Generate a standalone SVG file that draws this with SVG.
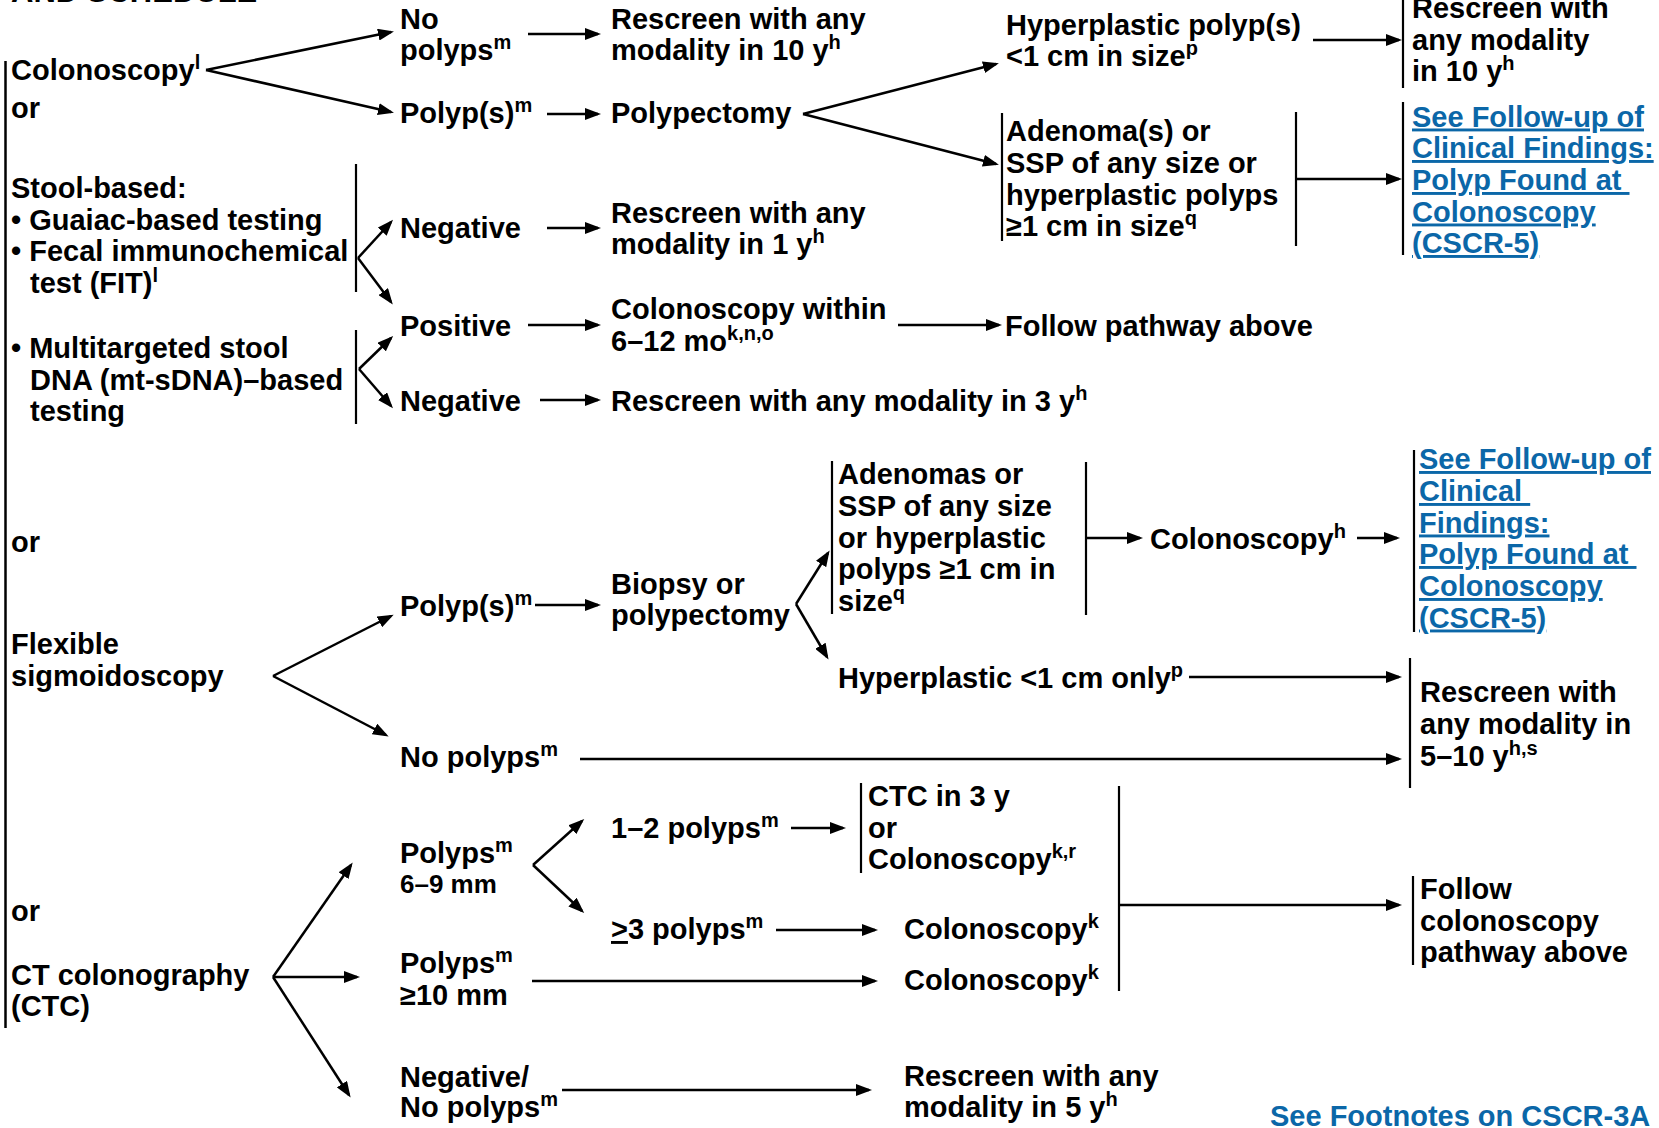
<svg xmlns="http://www.w3.org/2000/svg" width="1659" height="1128" viewBox="0 0 1659 1128">
<defs>
<style>
text{font-family:"Liberation Sans",Arial,Helvetica,sans-serif;font-weight:bold;font-size:29px;fill:#000}
.s{font-size:20px}
.blue{fill:#0b67a8}
.u{text-decoration:underline}
.ln{stroke:#000;stroke-width:2.5;fill:none;marker-end:url(#ah)}
.br{stroke:#000;stroke-width:2.2;fill:none}
</style>
<marker id="ah" viewBox="0 0 16 12" refX="13" refY="6" markerWidth="16" markerHeight="12" markerUnits="userSpaceOnUse" orient="auto"><path d="M0,0L16,6L0,12z" fill="#000"/></marker>
</defs>
<rect width="1659" height="1128" fill="#fff"/>

<g id="heading"><text x="11" y="2" style="font-size:31px">AND SCHEDULE</text></g>

<g id="left-options">
<line class="br" x1="5.5" y1="61" x2="5.5" y2="1028" style="stroke-width:2.5"/>
</g>

<g id="colonoscopy"><text><tspan x="11" y="80">Colonoscopy<tspan class="s" dy="-11">l</tspan></tspan><tspan x="11" y="118">or</tspan></text></g>

<g id="stool-based">
<text><tspan x="11" y="198">Stool-based:</tspan><tspan x="11" y="230">• Guaiac-based testing</tspan><tspan x="11" y="261">• Fecal immunochemical</tspan><tspan x="30" y="293">test (FIT)<tspan class="s" dy="-11">l</tspan></tspan></text>
<line class="br" x1="356" y1="164" x2="356" y2="292"/>
</g>

<g id="mt-sdna">
<text><tspan x="11" y="358">• Multitargeted stool</tspan><tspan x="30" y="390">DNA (mt-sDNA)–based</tspan><tspan x="30" y="421">testing</tspan></text>
<line class="br" x1="356" y1="330" x2="356" y2="424"/>
</g>

<g id="or-2"><text x="11" y="552">or</text></g>
<g id="flexible-sigmoidoscopy"><text><tspan x="11" y="654">Flexible</tspan><tspan x="11" y="686">sigmoidoscopy</tspan></text></g>
<g id="or-3"><text x="11" y="921">or</text></g>
<g id="ct-colonography"><text><tspan x="11" y="985">CT colonography</tspan><tspan x="11" y="1016">(CTC)</tspan></text></g>

<g id="col-no-polyps"><text><tspan x="400" y="29">No</tspan><tspan x="400" y="60">polyps<tspan class="s" dy="-11">m</tspan></tspan></text></g>
<g id="col-polyps"><text x="400" y="123">Polyp(s)<tspan class="s" dy="-11">m</tspan></text></g>
<g id="rescreen-10y"><text><tspan x="611" y="29">Rescreen with any</tspan><tspan x="611" y="60">modality in 10 y<tspan class="s" dy="-11">h</tspan></tspan></text></g>
<g id="polypectomy"><text x="611" y="123">Polypectomy</text></g>

<g id="hyperplastic-small"><text><tspan x="1006" y="35">Hyperplastic polyp(s)</tspan><tspan x="1006" y="66">&lt;1 cm in size<tspan class="s" dy="-11">p</tspan></tspan></text></g>
<g id="rescreen-10y-b">
<line class="br" x1="1403" y1="0" x2="1403" y2="88"/>
<text><tspan x="1412" y="18">Rescreen with</tspan><tspan x="1412" y="49.5">any modality</tspan><tspan x="1412" y="81">in 10 y<tspan class="s" dy="-11">h</tspan></tspan></text>
</g>
<g id="adenomas-a">
<line class="br" x1="1002" y1="113" x2="1002" y2="241"/>
<line class="br" x1="1296" y1="112" x2="1296" y2="246"/>
<text><tspan x="1006" y="141">Adenoma(s) or</tspan><tspan x="1006" y="173">SSP of any size or</tspan><tspan x="1006" y="204.5">hyperplastic polyps</tspan><tspan x="1006" y="236">≥1 cm in size<tspan class="s" dy="-11">q</tspan></tspan></text>
</g>
<g id="link-cscr5-a">
<line class="br" x1="1403" y1="102" x2="1403" y2="255"/>
<text class="blue u" xml:space="preserve"><tspan x="1412" y="126.5">See Follow-up of</tspan><tspan x="1412" y="158">Clinical Findings:</tspan><tspan x="1412" y="190">Polyp Found at </tspan><tspan x="1412" y="221.5">Colonoscopy</tspan><tspan x="1412" y="253">(CSCR-5)</tspan></text>
</g>

<g id="stool-negative"><text x="400" y="238">Negative</text></g>
<g id="rescreen-1y"><text><tspan x="611" y="223">Rescreen with any</tspan><tspan x="611" y="254">modality in 1 y<tspan class="s" dy="-11">h</tspan></tspan></text></g>
<g id="positive"><text x="400" y="336">Positive</text></g>
<g id="colonoscopy-within"><text><tspan x="611" y="319">Colonoscopy within</tspan><tspan x="611" y="351">6–12 mo<tspan class="s" dy="-11">k,n,o</tspan></tspan></text></g>
<g id="follow-pathway"><text x="1005" y="336">Follow pathway above</text></g>
<g id="mt-negative"><text x="400" y="411">Negative</text></g>
<g id="rescreen-3y"><text x="611" y="411">Rescreen with any modality in 3 y<tspan class="s" dy="-11">h</tspan></text></g>

<g id="flex-polyps"><text x="400" y="616">Polyp(s)<tspan class="s" dy="-11">m</tspan></text></g>
<g id="biopsy"><text><tspan x="611" y="594">Biopsy or</tspan><tspan x="611" y="625">polypectomy</tspan></text></g>
<g id="adenomas-b">
<line class="br" x1="832" y1="461" x2="832" y2="614"/>
<line class="br" x1="1086" y1="462" x2="1086" y2="615"/>
<text><tspan x="838" y="484">Adenomas or</tspan><tspan x="838" y="516">SSP of any size</tspan><tspan x="838" y="547.5">or hyperplastic</tspan><tspan x="838" y="579">polyps ≥1 cm in</tspan><tspan x="838" y="611">size<tspan class="s" dy="-11">q</tspan></tspan></text>
</g>
<g id="colonoscopy-h"><text x="1150" y="549">Colonoscopy<tspan class="s" dy="-11">h</tspan></text></g>
<g id="link-cscr5-b">
<line class="br" x1="1414" y1="450" x2="1414" y2="632"/>
<text class="blue u" xml:space="preserve"><tspan x="1419" y="469">See Follow-up of</tspan><tspan x="1419" y="501">Clinical </tspan><tspan x="1419" y="532.5">Findings:</tspan><tspan x="1419" y="564">Polyp Found at </tspan><tspan x="1419" y="596">Colonoscopy</tspan><tspan x="1419" y="627.5">(CSCR-5)</tspan></text>
</g>
<g id="hyperplastic-only"><text x="838" y="688">Hyperplastic &lt;1 cm only<tspan class="s" dy="-11">p</tspan></text></g>
<g id="flex-no-polyps"><text x="400" y="767">No polyps<tspan class="s" dy="-11">m</tspan></text></g>
<g id="rescreen-5-10y">
<line class="br" x1="1410" y1="658" x2="1410" y2="788"/>
<text><tspan x="1420" y="702">Rescreen with</tspan><tspan x="1420" y="734">any modality in</tspan><tspan x="1420" y="765.5">5–10 y<tspan class="s" dy="-11">h,s</tspan></tspan></text>
</g>

<g id="ctc-polyps-6-9"><text><tspan x="400" y="863">Polyps<tspan class="s" dy="-11">m</tspan></tspan><tspan x="400" y="893" style="font-size:26px">6–9 mm</tspan></text></g>
<g id="one-two-polyps"><text x="611" y="838">1–2 polyps<tspan class="s" dy="-11">m</tspan></text></g>
<g id="ctc-3y">
<line class="br" x1="861" y1="783" x2="861" y2="873"/>
<text><tspan x="868" y="806">CTC in 3 y</tspan><tspan x="868" y="837.5">or</tspan><tspan x="868" y="869">Colonoscopy<tspan class="s" dy="-11">k,r</tspan></tspan></text>
</g>
<g id="three-polyps"><text x="611" y="939"><tspan class="u">&gt;</tspan>3 polyps<tspan class="s" dy="-11">m</tspan></text></g>
<g id="colonoscopy-k1"><text x="904" y="939">Colonoscopy<tspan class="s" dy="-11">k</tspan></text></g>
<g id="ctc-polyps-10"><text><tspan x="400" y="973">Polyps<tspan class="s" dy="-11">m</tspan></tspan><tspan x="400" y="1005">≥10 mm</tspan></text></g>
<g id="colonoscopy-k2"><text x="904" y="990">Colonoscopy<tspan class="s" dy="-11">k</tspan></text></g>
<g id="colonoscopy-group"><line class="br" x1="1119" y1="786" x2="1119" y2="991"/></g>
<g id="follow-colonoscopy">
<line class="br" x1="1413" y1="876" x2="1413" y2="965"/>
<text><tspan x="1420" y="899">Follow</tspan><tspan x="1420" y="930.5">colonoscopy</tspan><tspan x="1420" y="962">pathway above</tspan></text>
</g>
<g id="ctc-negative"><text><tspan x="400" y="1087">Negative/</tspan><tspan x="400" y="1117">No polyps<tspan class="s" dy="-11">m</tspan></tspan></text></g>
<g id="rescreen-5y"><text><tspan x="904" y="1086">Rescreen with any</tspan><tspan x="904" y="1117">modality in 5 y<tspan class="s" dy="-11">h</tspan></tspan></text></g>
<g id="footnotes"><text class="blue" x="1270" y="1126">See Footnotes on CSCR-3A</text></g>

<g id="connectors">
<path class="ln" d="M206,70L391,32"/>
<path class="ln" d="M206,70L391,112"/>
<path class="ln" d="M528,34H598"/>
<path class="ln" d="M547,114H598"/>
<path class="ln" d="M803,114L996,64"/>
<path class="ln" d="M803,114L996,164"/>
<path class="ln" d="M1313,40H1399"/>
<path class="ln" d="M1296,179H1399"/>
<path class="ln" d="M358,258L391,222"/>
<path class="ln" d="M358,258L391,302"/>
<path class="ln" d="M547,228H598"/>
<path class="ln" d="M528,325H598"/>
<path class="ln" d="M359,369L391,338"/>
<path class="ln" d="M359,369L391,406"/>
<path class="ln" d="M540,400H598"/>
<path class="ln" d="M898,325H999"/>
<path class="ln" d="M273,676L391,616"/>
<path class="ln" d="M273,676L386,735"/>
<path class="ln" d="M535,605H598"/>
<path class="ln" d="M796,604L828,553"/>
<path class="ln" d="M796,604L827,657"/>
<path class="ln" d="M1086,538H1140"/>
<path class="ln" d="M1357,538H1397"/>
<path class="ln" d="M1189,677H1399"/>
<path class="ln" d="M580,759H1399"/>
<path class="ln" d="M273,977L351,865"/>
<path class="ln" d="M273,977H357"/>
<path class="ln" d="M273,977L349,1095"/>
<path class="ln" d="M533,865L582,821"/>
<path class="ln" d="M533,865L582,911"/>
<path class="ln" d="M791,828H843"/>
<path class="ln" d="M776,930H875"/>
<path class="ln" d="M532,981H875"/>
<path class="ln" d="M1119,905H1399"/>
<path class="ln" d="M562,1090H869"/>
</g>
</svg>
